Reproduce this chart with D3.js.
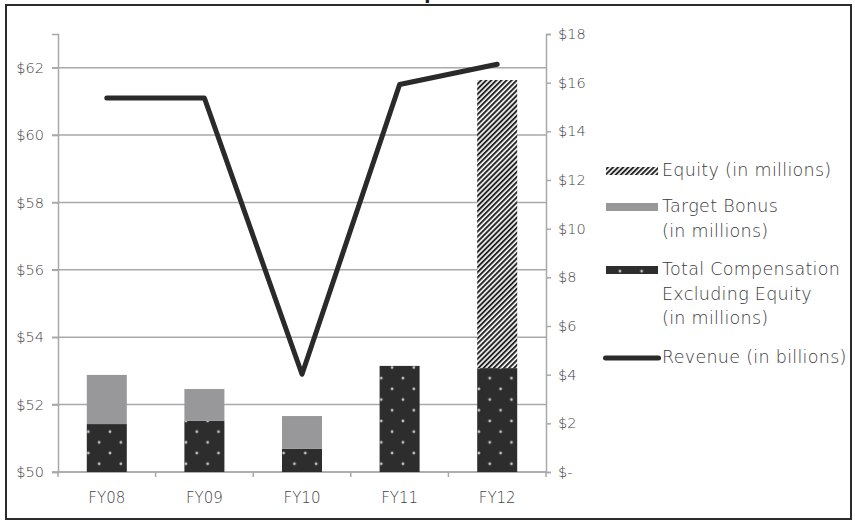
<!DOCTYPE html>
<html>
<head>
<meta charset="utf-8">
<script src="https://cdn.jsdelivr.net/npm/d3@7"></script>
<style>
  html, body { margin: 0; padding: 0; background: #fff; }
  svg { display: block; }
  text { font-family: "DejaVu Sans", sans-serif; font-weight: 200; }
</style>
</head>
<body>
<svg id="chart" width="855" height="525"></svg>
<script>
// Fiscal years shown on the x axis
const years = ["FY08", "FY09", "FY10", "FY11", "FY12"];
// Compensation pieces, $ millions (right axis), stacked bottom to top
const compExEquity = [1.97, 2.10, 0.95, 4.36, 4.27];
const targetBonus  = [2.02, 1.31, 1.35, 0, 0];
const equity       = [0, 0, 0, 0, 11.84];
// Company revenue, $ billions (left axis)
const revenue = [61.1, 61.1, 52.9, 61.5, 62.1];
// Axis ticks
const leftTicks  = [50, 52, 54, 56, 58, 60, 62];
const rightTicks = [0, 2, 4, 6, 8, 10, 12, 14, 16, 18];
// Legend entries (lines of text per entry)
const legendLabels = [
  ["Equity (in millions)"],
  ["Target Bonus", "(in millions)"],
  ["Total Compensation", "Excluding Equity", "(in millions)"],
  ["Revenue (in billions)"]
];

const svg = d3.select("#chart");
const plot = { left: 58, right: 546, top: 34, bottom: 472 };

const x = d3.scaleBand().domain(years).range([plot.left, plot.right])
  .paddingInner(0.59).paddingOuter(0.295);
const yL = d3.scaleLinear().domain([50, 63]).range([plot.bottom, plot.top]);
const yR = d3.scaleLinear().domain([0, 18]).range([plot.bottom, plot.top]);

const gridColor = "#a9a9ab";
const labelColor = "#444444";
const darkFill = "#2e2d2e";
const grayFill = "#98989b";
const lineColor = "#2b2a2b";

// Patterns: dotted dark fill and diagonal hatching
const defs = svg.append("defs");
const dots = defs.append("pattern").attr("id", "dots")
  .attr("patternUnits", "userSpaceOnUse")
  .attr("width", 21.7).attr("height", 21.4)
  .attr("x", 88.3).attr("y", 431.7);
dots.append("rect").attr("width", 21.7).attr("height", 21.4).attr("fill", darkFill);
[[0, 0], [21.7, 0], [0, 21.4], [21.7, 21.4], [10.85, 10.7]].forEach(([cx, cy]) =>
  dots.append("circle").attr("cx", cx).attr("cy", cy).attr("r", 1.4).attr("fill", "#c4c4c6"));

const hatch = defs.append("pattern").attr("id", "hatch")
  .attr("patternUnits", "userSpaceOnUse")
  .attr("width", 3.6).attr("height", 10)
  .attr("patternTransform", "rotate(45)");
hatch.append("rect").attr("width", 3.6).attr("height", 10).attr("fill", "#ffffff");
hatch.append("rect").attr("width", 2.0).attr("height", 10).attr("fill", "#262626");

// Title (sits above the frame)
svg.append("text").attr("x", 380).attr("y", -1)
  .attr("font-size", 18).style("font-weight", 700).attr("fill", "#1a1a1a")
  .text("Compensation");

// Outer frame
svg.append("rect").attr("x", 6).attr("y", 5).attr("width", 845).attr("height", 514)
  .attr("fill", "none").attr("stroke", "#2b2b2b").attr("stroke-width", 2);

// Gridlines from the left axis ticks
svg.append("g").selectAll("line").data(leftTicks).join("line")
  .attr("x1", plot.left - 6).attr("x2", plot.right)
  .attr("y1", d => yL(d)).attr("y2", d => yL(d))
  .attr("stroke", gridColor).attr("stroke-width", 1.5);

// Left axis
const leftAxis = d3.axisLeft(yL).tickValues(leftTicks)
  .tickFormat(d => "$" + d).tickSize(6).tickPadding(8);
const gL = svg.append("g").attr("transform", `translate(${plot.left},0)`).call(leftAxis);

// Right axis
const rightAxis = d3.axisRight(yR).tickValues(rightTicks)
  .tickFormat(d => d === 0 ? "$-" : "$" + d).tickSize(5).tickPadding(7);
const gR = svg.append("g").attr("transform", `translate(${plot.right},0)`).call(rightAxis);

// Bottom axis: ticks between categories
const boundaries = d3.range(years.length + 1).map(i => plot.left + i * x.step());
const gB = svg.append("g");
gB.append("line").attr("x1", plot.left).attr("x2", plot.right)
  .attr("y1", plot.bottom).attr("y2", plot.bottom)
  .attr("stroke", gridColor).attr("stroke-width", 1.5);
gB.selectAll("line.tk").data(boundaries).join("line").attr("class", "tk")
  .attr("x1", d => d).attr("x2", d => d)
  .attr("y1", plot.bottom).attr("y2", plot.bottom + 5)
  .attr("stroke", gridColor).attr("stroke-width", 1.5);
gB.selectAll("text").data(years).join("text")
  .attr("x", d => x(d) + x.bandwidth() / 2).attr("y", 503)
  .attr("text-anchor", "middle").attr("font-size", 15).attr("fill", labelColor)
  .text(d => d);

[gL, gR].forEach(g => {
  g.select(".domain").attr("stroke", gridColor).attr("stroke-width", 1.5);
  g.selectAll(".tick line").attr("stroke", gridColor).attr("stroke-width", 1.5);
  g.selectAll(".tick text").attr("font-size", 14.5).attr("fill", labelColor)
    .style("font-family", "'DejaVu Sans', sans-serif").style("font-weight", 200);
});

// Stacked bars
const stackData = years.map((yr, i) => ({ yr, comp: compExEquity[i], bonus: targetBonus[i], equity: equity[i] }));
const series = d3.stack().keys(["comp", "bonus", "equity"])(stackData);
const fills = { comp: "url(#dots)", bonus: grayFill, equity: "url(#hatch)" };
svg.append("g").selectAll("g").data(series).join("g")
  .attr("fill", s => fills[s.key])
  .selectAll("rect").data(s => s.filter(d => d[1] > d[0])).join("rect")
  .attr("x", d => x(d.data.yr)).attr("width", x.bandwidth())
  .attr("y", d => yR(d[1])).attr("height", d => yR(d[0]) - yR(d[1]));

// Revenue line
const line = d3.line().x((d, i) => x(years[i]) + x.bandwidth() / 2).y(d => yL(d));
svg.append("path").datum(revenue).attr("d", line)
  .attr("fill", "none").attr("stroke", lineColor).attr("stroke-width", 5)
  .attr("stroke-linecap", "round").attr("stroke-linejoin", "round");

// Legend
const legendX = 606, swW = 52, textX = 662, lineH = 24.5;
const legendBaselines = [176, 212, 275, 363];
const legendSwatch = ["url(#hatch)", grayFill, "url(#dots)", null];
const lg = svg.append("g");
legendLabels.forEach((lines, i) => {
  const base = legendBaselines[i];
  if (legendSwatch[i]) {
    lg.append("rect").attr("x", legendX).attr("y", base - 9).attr("width", swW).attr("height", 8)
      .attr("fill", legendSwatch[i]);
  } else {
    lg.append("line").attr("x1", legendX - 0.5).attr("x2", legendX + swW + 0.5)
      .attr("y1", base - 5).attr("y2", base - 5)
      .attr("stroke", lineColor).attr("stroke-width", 5).attr("stroke-linecap", "round");
  }
  lines.forEach((t, j) => {
    lg.append("text").attr("x", textX).attr("y", base + j * lineH)
      .attr("font-size", 17.5).attr("letter-spacing", 0.3).attr("fill", "#3a3a3a").text(t);
  });
});
</script>
</body>
</html>
